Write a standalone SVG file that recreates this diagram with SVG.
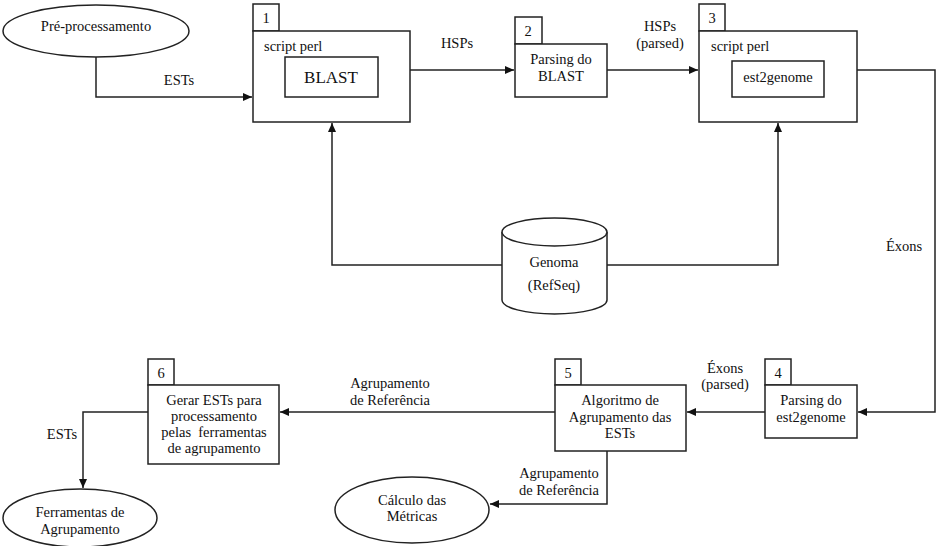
<svg xmlns="http://www.w3.org/2000/svg" width="936" height="546" viewBox="0 0 936 546">
<style>
.s{fill:#fff;stroke:#222;stroke-width:1.5}
.c{fill:none;stroke:#222;stroke-width:1.5}
.m{text-anchor:middle}
</style>
<defs>
<marker id="ah" markerUnits="userSpaceOnUse" markerWidth="10" markerHeight="10" refX="9" refY="4" orient="auto">
<path d="M0,0 L9,4 L0,8 z" fill="#111"/>
</marker>
</defs>
<rect width="936" height="546" fill="#fff"/>
<g id="connectors">
<path class="c" d="M96,57 V97 H252" marker-end="url(#ah)"/>
<path class="c" d="M410,70 H514" marker-end="url(#ah)"/>
<path class="c" d="M607,70 H698" marker-end="url(#ah)"/>
<path class="c" d="M857,70 H935 V412 H858" marker-end="url(#ah)"/>
<path class="c" d="M502,265 H332 V123" marker-end="url(#ah)"/>
<path class="c" d="M607,265 H778 V123" marker-end="url(#ah)"/>
<path class="c" d="M765,412 H687" marker-end="url(#ah)"/>
<path class="c" d="M555,412 H280" marker-end="url(#ah)"/>
<path class="c" d="M148,412 H83 V488" marker-end="url(#ah)"/>
<path class="c" d="M607,451 V504 H490" marker-end="url(#ah)"/>
<text class="m" font-family="Liberation Serif" font-size="14.5" fill="#111" x="179" y="85">ESTs</text>
<text class="m" font-family="Liberation Serif" font-size="14.5" fill="#111" x="457" y="48">HSPs</text>
<text class="m" font-family="Liberation Serif" font-size="14.5" fill="#111" x="660" y="31">HSPs</text>
<text class="m" font-family="Liberation Serif" font-size="14.5" fill="#111" x="660" y="48">(parsed)</text>
<text class="m" font-family="Liberation Serif" font-size="14.5" fill="#111" x="904" y="251">Éxons</text>
<text class="m" font-family="Liberation Serif" font-size="14.5" fill="#111" x="725" y="373">Éxons</text>
<text class="m" font-family="Liberation Serif" font-size="14.5" fill="#111" x="725" y="389">(parsed)</text>
<text class="m" font-family="Liberation Serif" font-size="14.5" fill="#111" x="390" y="388">Agrupamento</text>
<text class="m" font-family="Liberation Serif" font-size="14.5" fill="#111" x="390" y="405">de Referência</text>
<text class="m" font-family="Liberation Serif" font-size="14.5" fill="#111" x="62" y="439">ESTs</text>
<text class="m" font-family="Liberation Serif" font-size="14.5" fill="#111" x="559" y="478">Agrupamento</text>
<text class="m" font-family="Liberation Serif" font-size="14.5" fill="#111" x="559" y="495">de Referência</text>
</g>
<g id="pre">
<ellipse class="s" cx="96" cy="31" rx="93" ry="26"/>
<text class="m" font-family="Liberation Serif" font-size="14.5" fill="#111" x="96" y="31">Pré-processamento</text>
</g>
<g id="box1">
<rect class="s" x="253" y="4" width="26" height="27"/>
<text class="m" font-family="Liberation Serif" font-size="14.5" fill="#111" x="266" y="23">1</text>
<rect class="s" x="253" y="31" width="157" height="91"/>
<text font-family="Liberation Serif" font-size="14.5" fill="#111" x="264" y="51">script perl</text>
<rect class="s" x="285" y="57" width="93" height="40"/>
<text class="m" font-family="Liberation Serif" font-size="17" fill="#111" x="331" y="83">BLAST</text>
</g>
<g id="box2">
<rect class="s" x="515" y="17" width="27" height="27"/>
<text class="m" font-family="Liberation Serif" font-size="14.5" fill="#111" x="528" y="36">2</text>
<rect class="s" x="515" y="44" width="92" height="53"/>
<text class="m" font-family="Liberation Serif" font-size="14.5" fill="#111" x="561" y="64">Parsing do</text>
<text class="m" font-family="Liberation Serif" font-size="14.5" fill="#111" x="561" y="81">BLAST</text>
</g>
<g id="box3">
<rect class="s" x="699" y="4" width="26" height="27"/>
<text class="m" font-family="Liberation Serif" font-size="14.5" fill="#111" x="712" y="23">3</text>
<rect class="s" x="699" y="31" width="158" height="91"/>
<text font-family="Liberation Serif" font-size="14.5" fill="#111" x="711" y="51">script perl</text>
<rect class="s" x="732" y="61" width="92" height="36"/>
<text class="m" font-family="Liberation Serif" font-size="14.5" fill="#111" x="778" y="82">est2genome</text>
</g>
<g id="genoma">
<path class="s" d="M502,232 V300 A52.5,14 0 0 0 607,300 V232"/>
<ellipse class="s" cx="554.5" cy="232" rx="52.5" ry="14"/>
<text class="m" font-family="Liberation Serif" font-size="14.5" fill="#111" x="554" y="267">Genoma</text>
<text class="m" font-family="Liberation Serif" font-size="14.5" fill="#111" x="554" y="290">(RefSeq)</text>
</g>
<g id="box4">
<rect class="s" x="765" y="359" width="26" height="26"/>
<text class="m" font-family="Liberation Serif" font-size="14.5" fill="#111" x="778" y="378">4</text>
<rect class="s" x="765" y="385" width="92" height="53"/>
<text class="m" font-family="Liberation Serif" font-size="14.5" fill="#111" x="811" y="405">Parsing do</text>
<text class="m" font-family="Liberation Serif" font-size="14.5" fill="#111" x="811" y="422">est2genome</text>
</g>
<g id="box5">
<rect class="s" x="555" y="359" width="26" height="26"/>
<text class="m" font-family="Liberation Serif" font-size="14.5" fill="#111" x="568" y="378">5</text>
<rect class="s" x="555" y="385" width="131" height="66"/>
<text class="m" font-family="Liberation Serif" font-size="14.5" fill="#111" x="620" y="405">Algoritmo de</text>
<text class="m" font-family="Liberation Serif" font-size="14.5" fill="#111" x="620" y="422">Agrupamento das</text>
<text class="m" font-family="Liberation Serif" font-size="14.5" fill="#111" x="620" y="438">ESTs</text>
</g>
<g id="box6">
<rect class="s" x="148" y="359" width="26" height="26"/>
<text class="m" font-family="Liberation Serif" font-size="14.5" fill="#111" x="161" y="378">6</text>
<rect class="s" x="148" y="385" width="131" height="79"/>
<text class="m" font-family="Liberation Serif" font-size="14.5" fill="#111" x="214" y="405">Gerar ESTs para</text>
<text class="m" font-family="Liberation Serif" font-size="14.5" fill="#111" x="214" y="421">processamento</text>
<text class="m" font-family="Liberation Serif" font-size="14.5" fill="#111" x="214" y="437" xml:space="preserve">pelas  ferramentas</text>
<text class="m" font-family="Liberation Serif" font-size="14.5" fill="#111" x="214" y="453">de agrupamento</text>
</g>
<g id="ferramentas">
<ellipse class="s" cx="80" cy="518" rx="77" ry="29"/>
<text class="m" font-family="Liberation Serif" font-size="14.5" fill="#111" x="80" y="517">Ferramentas de</text>
<text class="m" font-family="Liberation Serif" font-size="14.5" fill="#111" x="80" y="534">Agrupamento</text>
</g>
<g id="calculo">
<ellipse class="s" cx="412" cy="510" rx="77" ry="33"/>
<text class="m" font-family="Liberation Serif" font-size="14.5" fill="#111" x="412" y="505">Cálculo das</text>
<text class="m" font-family="Liberation Serif" font-size="14.5" fill="#111" x="412" y="521">Métricas</text>
</g>
</svg>
